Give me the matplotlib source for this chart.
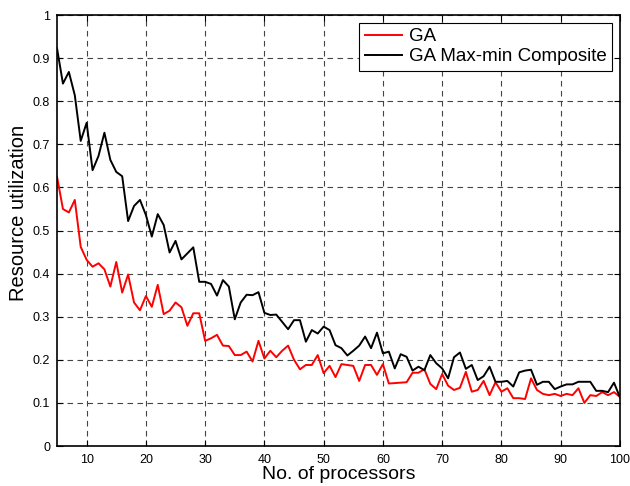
import numpy as np
import matplotlib
matplotlib.use('Agg')
import matplotlib.pyplot as plt

plt.rcParams['font.family'] = ['Liberation Sans', 'DejaVu Sans']

# number of processors
procs = np.arange(5, 101)

ga = [0.625, 0.550, 0.542, 0.571, 0.462, 0.432, 0.416, 0.424, 0.410, 0.370,
      0.427, 0.356, 0.398, 0.333, 0.315, 0.348, 0.323, 0.374, 0.306, 0.314,
      0.333, 0.322, 0.279, 0.308, 0.308, 0.244, 0.250, 0.258, 0.233, 0.232,
      0.211, 0.211, 0.219, 0.196, 0.244, 0.203, 0.221, 0.206, 0.221, 0.233,
      0.200, 0.178, 0.188, 0.188, 0.211, 0.169, 0.186, 0.160, 0.190, 0.188,
      0.186, 0.151, 0.188, 0.188, 0.165, 0.190, 0.145, 0.146, 0.147, 0.148,
      0.170, 0.170, 0.178, 0.144, 0.132, 0.167, 0.140, 0.130, 0.135, 0.172,
      0.126, 0.130, 0.151, 0.118, 0.148, 0.126, 0.134, 0.111, 0.111, 0.109,
      0.157, 0.130, 0.121, 0.118, 0.121, 0.116, 0.121, 0.118, 0.134, 0.100,
      0.118, 0.116, 0.125, 0.118, 0.125, 0.114]

ga_maxmin = [0.923, 0.841, 0.868, 0.814, 0.708, 0.750, 0.640, 0.673, 0.727, 0.664,
             0.636, 0.626, 0.522, 0.557, 0.571, 0.536, 0.486, 0.538, 0.513, 0.449,
             0.476, 0.433, 0.447, 0.461, 0.381, 0.381, 0.376, 0.349, 0.385, 0.370,
             0.294, 0.333, 0.351, 0.350, 0.357, 0.309, 0.304, 0.305, 0.288, 0.271,
             0.292, 0.292, 0.242, 0.269, 0.261, 0.277, 0.269, 0.234, 0.227, 0.210,
             0.221, 0.233, 0.254, 0.227, 0.263, 0.215, 0.219, 0.180, 0.213, 0.207,
             0.175, 0.184, 0.176, 0.211, 0.192, 0.180, 0.157, 0.206, 0.217, 0.179,
             0.188, 0.153, 0.162, 0.184, 0.149, 0.149, 0.151, 0.138, 0.171, 0.175,
             0.177, 0.142, 0.149, 0.149, 0.132, 0.138, 0.143, 0.143, 0.149, 0.149,
             0.149, 0.128, 0.128, 0.125, 0.147, 0.113]

xticks = np.arange(10, 101, 10)
yticks = np.round(np.arange(0, 1.01, 0.1), 1)
ytick_labels = ['0', '0.1', '0.2', '0.3', '0.4', '0.5', '0.6', '0.7', '0.8', '0.9', '1']

fig = plt.figure(figsize=(6.3, 4.86), dpi=100)
ax = fig.add_axes([0.0905, 0.0823, 0.8935, 0.8867])

ax.plot(procs, ga, color='red', lw=1.4, label='GA')
ax.plot(procs, ga_maxmin, color='black', lw=1.4, label='GA Max-min Composite')

ax.set_xlim(5, 100)
ax.set_ylim(0, 1)
ax.set_xticks(xticks)
ax.set_yticks(yticks)
ax.set_yticklabels(ytick_labels)
ax.tick_params(direction='in', top=True, right=True, labelsize=9, length=4)
ax.tick_params(axis='x', pad=6)
ax.tick_params(axis='y', pad=5)
ax.grid(True, color='#444444', linestyle=(0, (5, 4)), linewidth=0.8)
for s in ax.spines.values():
    s.set_linewidth(1.2)

ax.set_xlabel('No. of processors', fontsize=14, labelpad=0)
ax.set_ylabel('Resource utilization', fontsize=14.5)
ax.yaxis.set_label_coords(-0.052, 0.54)

leg = ax.legend(loc='upper right', fontsize=13.5, fancybox=False, framealpha=1,
                edgecolor='black', borderaxespad=0.4, handlelength=2.0,
                handletextpad=0.35, labelspacing=0.15, borderpad=0.3)
leg.get_frame().set_linewidth(0.8)

fig.savefig('out.png', dpi=100)
